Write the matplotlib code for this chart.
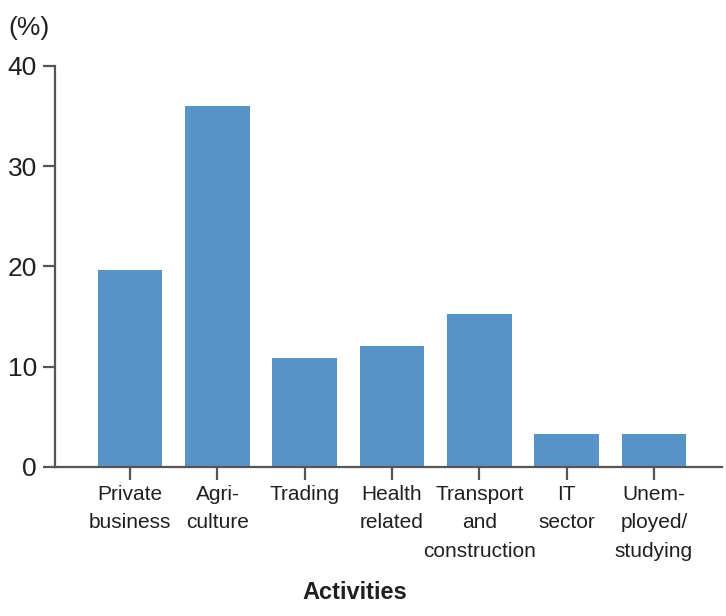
# coding:utf-8
import matplotlib
matplotlib.use('Agg')
import matplotlib.pyplot as plt

categories = ['Private\nbusiness', 'Agri-\nculture', 'Trading', 'Health\nrelated',
              'Transport\nand\nconstruction', 'IT\nsector', 'Unem-\nployed/\nstudying']
values = [19.6, 36.0, 10.9, 12.1, 15.3, 3.3, 3.3]
yticks = [0, 10, 20, 30, 40]

plt.rcParams['font.family'] = ['Liberation Sans', 'DejaVu Sans']

fig = plt.figure(figsize=(7.26, 6.16), dpi=100)
ax = fig.add_axes([0.0758, 0.2419, 0.9187, 0.651])

x = range(len(values))
ax.bar(x, values, width=0.74, color='#5893c8')

ax.set_ylim(0, 40)
ax.set_xlim(-0.86, 6.78)
ax.set_yticks(yticks)
ax.set_xticks(list(x))
ax.set_xticklabels(categories, fontsize=15, color='#231f20', linespacing=1.62)
ax.tick_params(axis='y', labelsize=19, colors='#231f20', length=9, width=1.6, direction='out', pad=4)
ax.tick_params(axis='x', length=9, width=1.6, direction='out', pad=4)
ax.tick_params(axis='both', color='#555555')

for s in ['top', 'right']:
    ax.spines[s].set_visible(False)
for s in ['left', 'bottom']:
    ax.spines[s].set_color('#555555')
    ax.spines[s].set_linewidth(1.6)

fig.text(0.012, 0.955, '(%)', fontsize=19, color='#231f20', ha='left', va='center')
fig.text(0.489, 0.038, 'Activities', fontsize=17, fontweight='bold', color='#231f20',
         ha='center', va='center')

plt.savefig('out.png', dpi=100)
